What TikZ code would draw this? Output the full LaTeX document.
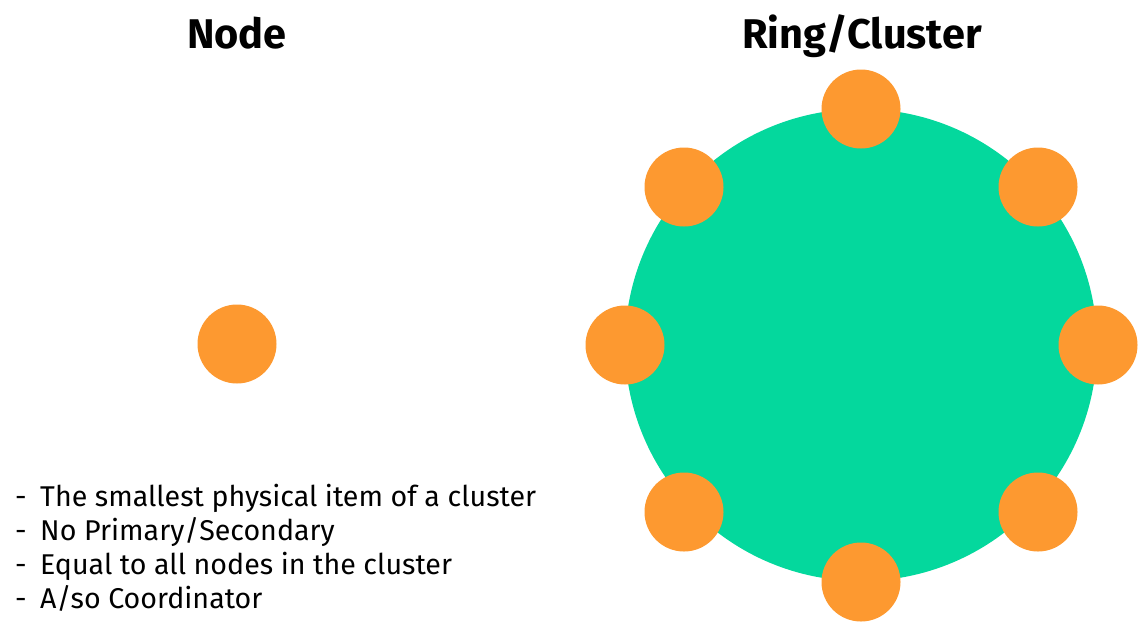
\documentclass[tikz,border=0pt]{standalone}
\usepackage{fontspec}
\setmainfont{Fira Sans}
\definecolor{nodeorange}{RGB}{253,153,48}
\definecolor{ringgreen}{RGB}{4,216,157}
\begin{document}
\begin{tikzpicture}[x=1pt,y=-1pt,
  member/.style={circle,fill=nodeorange,minimum size=79pt,inner sep=0pt},
  ring/.style={circle,fill=ringgreen,minimum size=472pt,inner sep=0pt},
  title/.style={font=\fontsize{41.5}{50}\selectfont\bfseries,anchor=base,inner sep=0pt},
  bullet/.style={font=\fontsize{28.6}{34}\selectfont,anchor=base west,inner sep=0pt}]
\useasboundingbox (0,0) rectangle (1147,633);
\node[title] (t1) at (237,48) {Node};
\node[title] (t2) at (862,48) {Ring/Cluster};
\node[member] (single) at (237,344) {};
\node[ring] (cluster) at (861,345) {};
\node[member] (n1) at (861,109) {};
\node[member] (n2) at (1038,187) {};
\node[member] (n3) at (1098,345) {};
\node[member] (n4) at (1038,512) {};
\node[member] (n5) at (861,582) {};
\node[member] (n6) at (684,512) {};
\node[member] (n7) at (625,345) {};
\node[member] (n8) at (684,187) {};
\node[bullet] (b1) at (15,506) {-\hspace{13.5pt}The smallest physical item of a cluster};
\node[bullet] (b2) at (15,540) {-\hspace{13.5pt}No Primary/Secondary};
\node[bullet] (b3) at (15,574) {-\hspace{13.5pt}Equal to all nodes in the cluster};
\node[bullet] (b4) at (15,608) {-\hspace{13.5pt}A/so Coordinator};
\end{tikzpicture}
\end{document}
